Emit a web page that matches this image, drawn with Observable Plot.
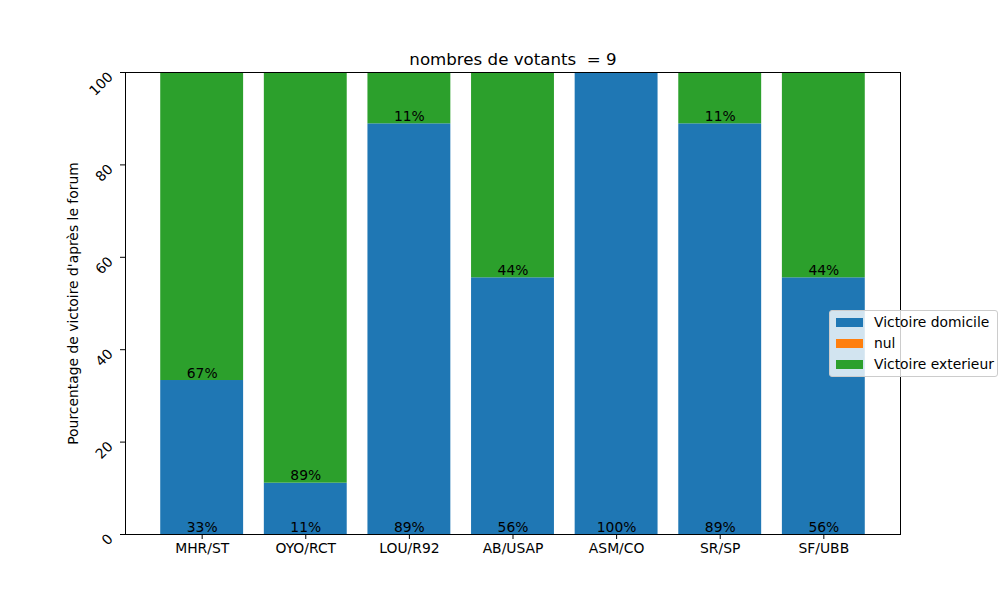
<!DOCTYPE html>
<html>
<head>
<meta charset="utf-8">
<script src="https://cdn.jsdelivr.net/npm/d3@7"></script>
<script src="https://cdn.jsdelivr.net/npm/@observablehq/plot@0.6"></script>
<style>
  body { margin: 0; background: #fff; }
  #wrap { position: relative; width: 1000px; height: 600px; font-family: "DejaVu Sans", sans-serif; }
  #wrap svg text { white-space: pre; }
  #legend {
    position: absolute; left: 829px; top: 310px; width: 169px; height: 67px;
    background: rgba(255,255,255,0.8); border: 1px solid #cccccc; border-radius: 3px;
    box-sizing: border-box; font-size: 13.89px; color: #000;
  }
  #legend .row { position: absolute; left: 6px; height: 16px; display: flex; align-items: center; white-space: nowrap; }
  #legend .sw { width: 27px; height: 9px; margin-right: 11px; }
</style>
</head>
<body>
<div id="wrap"></div>
<script>
const matches = ["MHR/ST", "OYO/RCT", "LOU/R92", "AB/USAP", "ASM/CO", "SR/SP", "SF/UBB"];
const homeWin = [33.33, 11.11, 88.89, 55.56, 100, 88.89, 55.56];
const draw = [0, 0, 0, 0, 0, 0, 0];
const awayWin = [66.67, 88.89, 11.11, 44.44, 0, 11.11, 44.44];
const seriesNames = ["Victoire domicile", "nul", "Victoire exterieur"];
const seriesColors = ["#1f77b4", "#ff7f0e", "#2ca02c"];
const yTicks = [0, 20, 40, 60, 80, 100];
const title = "nombres de votants  = 9";
const yLabel = "Pourcentage de victoire d'après le forum";

const rows = [];
matches.forEach((m, i) => {
  rows.push({match: m, series: seriesNames[0], value: homeWin[i]});
  rows.push({match: m, series: seriesNames[1], value: draw[i]});
  rows.push({match: m, series: seriesNames[2], value: awayWin[i]});
});
const homeLabels = matches.map((m, i) => ({match: m, y: 0, text: Math.round(homeWin[i]) + "%"}));
const awayLabels = matches.map((m, i) => ({match: m, y: homeWin[i] + draw[i], v: awayWin[i], text: Math.round(awayWin[i]) + "%"})).filter(d => d.v > 0);

const chart = Plot.plot({
  width: 1000,
  height: 600,
  marginLeft: 125,
  marginRight: 100,
  marginTop: 72,
  marginBottom: 66,
  style: {fontFamily: "DejaVu Sans, sans-serif", fontSize: "13.89px", color: "#000", background: "#fff"},
  x: {domain: matches, paddingInner: 0.2, paddingOuter: 0.34, align: 0.5, round: false, label: null},
  y: {domain: [0, 100], label: null},
  color: {domain: seriesNames, range: seriesColors},
  marks: [
    Plot.barY(rows, {x: "match", y: "value", fill: "series", inset: 0}),
    Plot.text(homeLabels, {x: "match", y: "y", text: "text", lineAnchor: "bottom", dy: -3, fill: "#000"}),
    Plot.text(awayLabels, {x: "match", y: "y", text: "text", lineAnchor: "bottom", dy: -3, fill: "#000"}),
    Plot.frame({stroke: "#000", strokeWidth: 1}),
    Plot.axisX({tickSize: 5, tickPadding: 4, label: null, stroke: "#000", fill: "#000"}),
    Plot.axisY({ticks: yTicks, tickSize: 5, text: null, label: null, stroke: "#000"}),
    Plot.axisY({ticks: yTicks, tickSize: 0, tickPadding: 15, tickRotate: -45, label: null, fill: "#000", dy: 2}),
    Plot.text([title], {frameAnchor: "top", dy: -8, lineAnchor: "bottom", fontSize: 16.67, fill: "#000"}),
    Plot.text([yLabel], {frameAnchor: "left", dx: -52, rotate: -90, textAnchor: "middle", lineAnchor: "middle", fill: "#000"})
  ]
});
const wrap = document.getElementById("wrap");
wrap.appendChild(chart);

const legend = document.createElement("div");
legend.id = "legend";
seriesNames.forEach((name, i) => {
  const r = document.createElement("div");
  r.className = "row";
  r.style.top = (3 + i * 21) + "px";
  const sw = document.createElement("div");
  sw.className = "sw";
  sw.style.background = seriesColors[i];
  const t = document.createElement("span");
  t.textContent = name;
  r.appendChild(sw);
  r.appendChild(t);
  legend.appendChild(r);
});
wrap.appendChild(legend);
</script>
</body>
</html>
